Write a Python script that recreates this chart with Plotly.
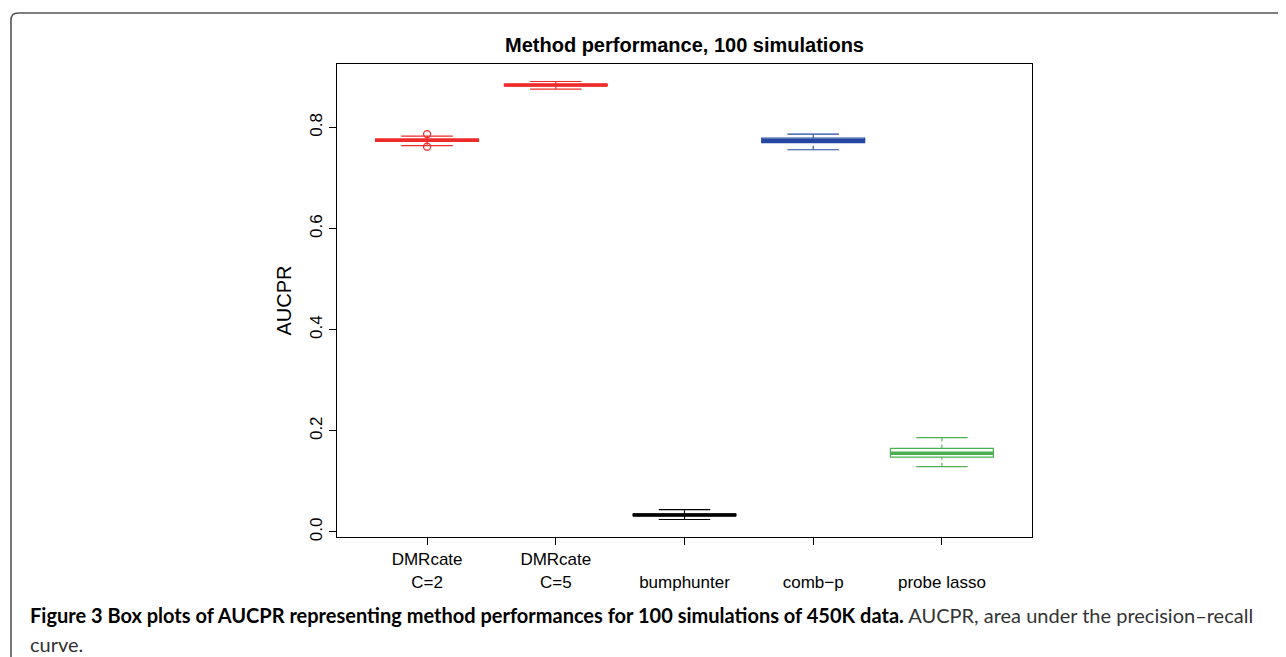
import plotly.graph_objects as go

# ---- data ----
methods = ["DMRcate<br>C=2", "DMRcate<br>C=5", "<br>bumphunter", "<br>comb\u2212p", "<br>probe lasso"]
lower_whisker = [0.764, 0.876, 0.0245, 0.756, 0.129]
q1 = [0.7725, 0.8825, 0.0320, 0.7700, 0.1480]
median = [0.7750, 0.8840, 0.0336, 0.7740, 0.1555]
q3 = [0.7770, 0.8855, 0.0350, 0.7790, 0.1650]
upper_whisker = [0.783, 0.891, 0.0440, 0.787, 0.1866]
outlier_x = [1, 1]
outlier_y = [0.787, 0.762]
colors = ["#EE2A2A", "#EE2A2A", "#000000", "#2347A0", "#4DB050"]
y_ticks = [0.0, 0.2, 0.4, 0.6, 0.8]

positions = list(range(1, len(methods) + 1))
BOXW = 0.8
CAPW = BOXW / 4

fig = go.Figure()
for i, m in enumerate(methods):
    p = positions[i]
    c = colors[i]
    fig.add_trace(go.Box(
        x=[p], q1=[q1[i]], median=[median[i]], q3=[q3[i]],
        lowerfence=[q1[i]], upperfence=[q3[i]],
        width=BOXW, whiskerwidth=0,
        line=dict(color=c, width=1.2),
        fillcolor="rgba(255,255,255,0)",
        boxpoints=False, showlegend=False, hoverinfo="skip"))
    # dashed whiskers
    fig.add_trace(go.Scatter(
        x=[p, p, None, p, p], y=[lower_whisker[i], q1[i], None, q3[i], upper_whisker[i]],
        mode="lines", line=dict(color=c, width=1.1, dash="4px,3px"),
        showlegend=False, hoverinfo="skip"))
    # whisker caps
    fig.add_trace(go.Scatter(
        x=[p - CAPW, p + CAPW, None, p - CAPW, p + CAPW],
        y=[lower_whisker[i], lower_whisker[i], None, upper_whisker[i], upper_whisker[i]],
        mode="lines", line=dict(color=c, width=1.2),
        showlegend=False, hoverinfo="skip"))
    # thick median line (R style lwd=3)
    fig.add_trace(go.Scatter(
        x=[p - BOXW / 2, p + BOXW / 2], y=[median[i], median[i]],
        mode="lines", line=dict(color=c, width=3.5),
        showlegend=False, hoverinfo="skip"))

fig.add_trace(go.Scatter(
    x=outlier_x, y=outlier_y, mode="markers",
    marker=dict(symbol="circle-open", size=7, color=colors[0], line=dict(width=1.3)),
    showlegend=False, hoverinfo="skip"))

all_vals = lower_whisker + upper_whisker + outlier_y
vmin, vmax = min(all_vals), max(all_vals)
pad = 0.04 * (vmax - vmin)

OFF = 8  # page offset of the figure inside the browser window
W, H = 1286, 657
PL, PR, PT, PB = 337, 1032, 64, 537  # plot area in screen pixels
pw, ph = PR - PL, PB - PT

def px(xs):
    return (xs - PL) / pw

def py(ys):
    return (PB - ys) / ph

r = 7
frame_path = (f"M {px(11)},{py(700)} L {px(11)},{py(13 + r)} "
              f"Q {px(11)},{py(13)} {px(11 + r)},{py(13)} L {px(1320)},{py(13)}")

fig.update_layout(
    width=W, height=H,
    margin=dict(l=PL - OFF, r=W - PR + OFF, t=PT - OFF, b=H - PB + OFF),
    paper_bgcolor="white", plot_bgcolor="white",
    font=dict(family="Liberation Sans, Arial, sans-serif", color="black"),
    title=dict(text="<b>Method performance, 100 simulations</b>",
               x=((PL + PR) / 2 - OFF) / W, xanchor="center",
               y=1 - (45 - OFF) / H, yanchor="middle", yref="container",
               font=dict(size=20, color="black")),
    xaxis=dict(range=[0.3, len(methods) + 0.7], tickmode="array",
               tickvals=positions, ticktext=methods,
               ticks="outside", ticklen=7, tickwidth=1, tickcolor="black",
               showgrid=False, zeroline=False, showline=True, mirror=True,
               linecolor="black", linewidth=1,
               tickfont=dict(size=17, color="black")),
    yaxis=dict(range=[vmin - pad, vmax + pad], tickmode="array",
               tickvals=y_ticks,
               ticktext=[f"{t:.1f}" for t in y_ticks],
               tickangle=-90,
               ticks="outside", ticklen=7, tickwidth=1, tickcolor="black",
               showgrid=False, zeroline=False, showline=True, mirror=True,
               linecolor="black", linewidth=1,
               tickfont=dict(size=17, color="black"),
               title=dict(text="AUCPR", font=dict(size=20, color="black"), standoff=10)),
    shapes=[dict(type="path", xref="paper", yref="paper", path=frame_path,
                 line=dict(color="#555555", width=1.6))],
    annotations=[
        dict(xref="paper", yref="paper", x=px(28), y=py(615), xanchor="left", yanchor="middle",
             align="left", showarrow=False,
             text=("<b>Figure 3 Box plots of AUCPR representing method performances for 100 simulations of 450K data.</b>"
                   "<span style='color:#333333'> AUCPR, area under the precision\u2013recall</span>"),
             font=dict(family="Lato, Open Sans, sans-serif", size=20, color="black")),
        dict(xref="paper", yref="paper", x=px(28), y=py(644), xanchor="left", yanchor="middle",
             align="left", showarrow=False,
             text="curve.",
             font=dict(family="Lato, Open Sans, sans-serif", size=20, color="#333333")),
    ],
)

fig.write_html("out.html")
